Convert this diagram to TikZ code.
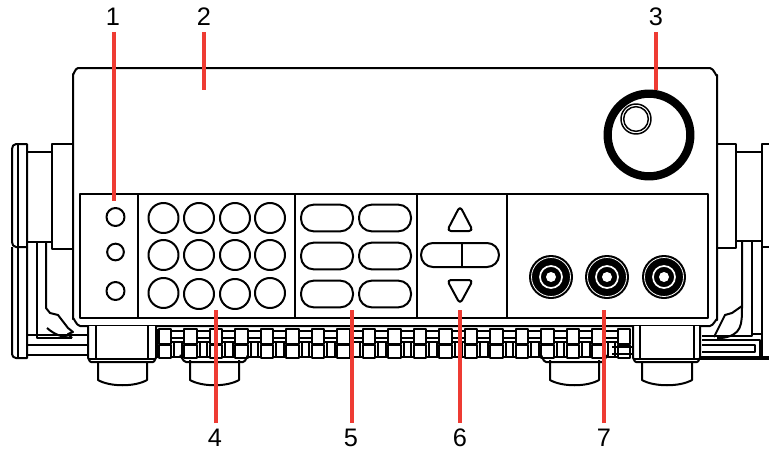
\documentclass[tikz,border=0pt]{standalone}
\usepackage{fontspec}
\setmainfont{Liberation Sans}
\begin{document}
\begin{tikzpicture}[x=0.75pt,y=-0.75pt,
  ink/.style={draw=black,line width=1.5pt,line join=round},
  key/.style={ink,fill=white},
  leader/.style={draw=redline,line width=2.4pt,shorten <=3pt},
  num/.style={font=\fontsize{19}{21}\selectfont,inner sep=1.5pt,text=black}]
\definecolor{redline}{HTML}{EE3B33}
\useasboundingbox (0,0) rectangle (769,450);
\fill[white] (0,0) rectangle (769,450);
% left handle
\draw[ink] (27,144) -- (16,144) to[out=180,in=90] (12,149) -- (12,242) to[out=-90,in=180] (16,247) -- (27,247) -- (27,144) -- cycle;
\draw[ink] (18,144) -- (18,247);
\draw[ink] (27,152) -- (52,152) (27,242) -- (52,242);
\draw[ink] (73,144) -- (52,144) -- (52,249) -- (73,249);
\draw[ink] (12,247) -- (12,354) to[out=-90,in=180] (16,358) -- (27,358) -- (27,247);
\draw[ink] (18,247) -- (18,358);
\draw[ink] (37,242) -- (37,338) -- (72,338);
\draw[ink] (46,242) -- (46,308) -- (50,313) -- (58,315) -- (68,328) -- (73,332) -- (68,334) -- (72,338);
\draw[ink] (47,328) .. controls (55,335) and (62,337) .. (72,338);
\draw[ink] (27,335) -- (88,335) (27,345) -- (88,345) (27,355) -- (88,355);
% right handle
\draw[ink] (717,144) -- (736,144) -- (736,248) -- (717,248);
\draw[ink] (736,152) -- (762,152) (736,241) -- (762,241);
\draw[ink] (769,144) -- (762,144) -- (762,247) -- (769,247);
\draw[ink] (742,241) -- (742,306) .. controls (742,325) and (742,335) .. (722,338) -- (717,338);
\draw[ink] (742,306) -- (732,313) -- (725,315) -- (717,331) -- (714,337);
\draw[ink] (752,241) -- (752,336) -- (702,336);
\draw[ink] (762,247) -- (762,358);
\draw[ink] (752,334) -- (762,334);
\draw[ink] (702,345) -- (755,345) -- (755,352) -- (702,352);
\draw[ink] (702,340) -- (760,340) -- (760,357);
\draw[draw=black,line width=2.4pt] (700,358) -- (769,358);
% body
\draw[ink] (73,144) -- (73,74) to[out=-90,in=180] (78,68) -- (710,68) to[out=0,in=-90] (717,75) -- (717,320) to[out=90,in=0] (710,326) -- (80,326) to[out=180,in=90] (73,319) -- cycle;
% teeth
\foreach \i in {0,...,18}{
  \pgfmathsetmacro{\xa}{158.5+25.5*\i}
  \draw[ink] (\xa,329) rectangle +(12.5,14.5);
  \draw[ink] (\xa,344.5) rectangle +(12.5,13.5);
  \ifnum\i<18
    \draw[ink] (\xa+12.5,331) -- +(13,0) (\xa+12.5,338) -- +(13,0) (\xa+12.5,342) -- +(13,0) (\xa+12.5,357) -- +(13,0);
    \draw[ink] (\xa+15.5,342) -- +(0,15) (\xa+23,342) -- +(0,15);
  \fi
}
\draw[ink] (157,329) -- (157,358);
\draw[ink] (612,347) -- (633,347) (612,354) -- (633,354) (633,329) -- (633,358);
% feet
\draw[key] (98,360) -- (98,380) .. controls (110,387) and (135,387) .. (147,380) -- (147,360);
\draw[ink] (190,360) -- (190,380) .. controls (202,387) and (227,387) .. (239,380) -- (239,360);
\draw[ink] (550,360) -- (550,380) .. controls (562,387) and (587,387) .. (599,380) -- (599,360);
\draw[ink] (642,360) -- (642,380) .. controls (654,387) and (680,387) .. (692,380) -- (692,360);
\draw[key] (88,326) -- (88,358) to[out=90,in=180] (91,362) -- (153,362) to[out=0,in=90] (156,358) -- (156,326);
\draw[ink] (96,326) -- (96,359) (148,326) -- (148,359) (88,359) -- (156,359);
\draw[key] (633,326) -- (633,358) to[out=90,in=180] (636,362) -- (697,362) to[out=0,in=90] (700,358) -- (700,326);
\draw[ink] (640,326) -- (640,359) (694,326) -- (694,359) (633,359) -- (700,359);
\draw[ink] (180,356) to[out=90,in=180] (186,362) -- (243,362) to[out=0,in=90] (248,356);
\draw[ink] (541,356) to[out=90,in=180] (546,362) -- (602,362) to[out=0,in=90] (607,356);
% front panel
\draw[key] (80,194) rectangle (708,318);
\draw[ink] (138,194) -- (138,318) (295,194) -- (295,318) (417,194) -- (417,318) (507,194) -- (507,318);
% indicator keys
\node[circle,key,minimum size=13.5pt,inner sep=0pt] (i1) at (115.5,217) {};
\node[circle,key,minimum size=12.5pt,inner sep=0pt] (i2) at (115.5,252) {};
\node[circle,key,minimum size=13.5pt,inner sep=0pt] (i3) at (115.5,291) {};
% keypad
\foreach \x/\y/\n in {163.5/218/a1,199/218/a2,235/218/a3,270/218/a4,163.5/255/b1,199/255/b2,235/255/b3,270/255/b4,163.5/293/c1,199/294/c2,235/294/c3,270/293/c4}
  \node[circle,key,minimum size=22.5pt,inner sep=0pt] (\n) at (\x,\y) {};
% pills
\foreach \x/\y/\n in {327/218/p1,385/218/p2,327/256/p3,385/256/p4,327/294/p5,385/294/p6}
  \node[key,rounded corners=9.5pt,minimum width=39pt,minimum height=20pt,inner sep=0pt] (\n) at (\x,\y) {};
% navigation
\draw[ink,rounded corners=3pt] (460,206) -- (473,231) -- (447,231) -- cycle;
\draw[ink,rounded corners=3pt] (460,304) -- (473,280) -- (447,280) -- cycle;
\draw[ink,rounded corners=9pt] (421,243) rectangle (499,267);
\draw[ink] (462,243) -- (462,267);
% terminals
\foreach \x/\n in {551/t1,607/t2,664/t3}{
  \node[circle,fill=black,minimum size=33pt,inner sep=0pt] (\n) at (\x,277) {};
  \draw[white,line width=0.6pt] (\x,277) circle[radius=19.5];
  \draw[white,line width=1.3pt] (\x,277) circle[radius=11];
  \fill[white] (\x,277) circle[radius=5];
}
% knob
\node[circle,draw=black,line width=6.2pt,minimum size=62pt,inner sep=0pt] (knob) at (649,135) {};
\node[circle,draw=black,line width=1.1pt,minimum size=22.5pt,inner sep=0pt] (k1) at (636,119) {};
\node[circle,draw=black,line width=1.1pt,minimum size=18.5pt,inner sep=0pt] (k2) at (636,119) {};
% leaders
\node[num] (n1) at (113,17) {1};
\node[num] (n2) at (204,17) {2};
\node[num] (n3) at (656,17) {3};
\node[num] (n4) at (215,438) {4};
\node[num] (n5) at (351,438) {5};
\node[num] (n6) at (460,438) {6};
\node[num] (n7) at (604,438) {7};
\coordinate (e1) at (114,201);
\coordinate (e2) at (204,90);
\coordinate (e3) at (656,90);
\coordinate (e4) at (216,310);
\coordinate (e5) at (352,310);
\coordinate (e6) at (460,310);
\coordinate (e7) at (604,310);
\draw[leader] (e1 |- n1.south) -- (e1);
\draw[leader] (e2 |- n2.south) -- (e2);
\draw[leader] (e3 |- n3.south) -- (e3);
\draw[leader] (e4 |- n4.north) -- (e4);
\draw[leader] (e5 |- n5.north) -- (e5);
\draw[leader] (e6 |- n6.north) -- (e6);
\draw[leader] (e7 |- n7.north) -- (e7);
\end{tikzpicture}
\end{document}
